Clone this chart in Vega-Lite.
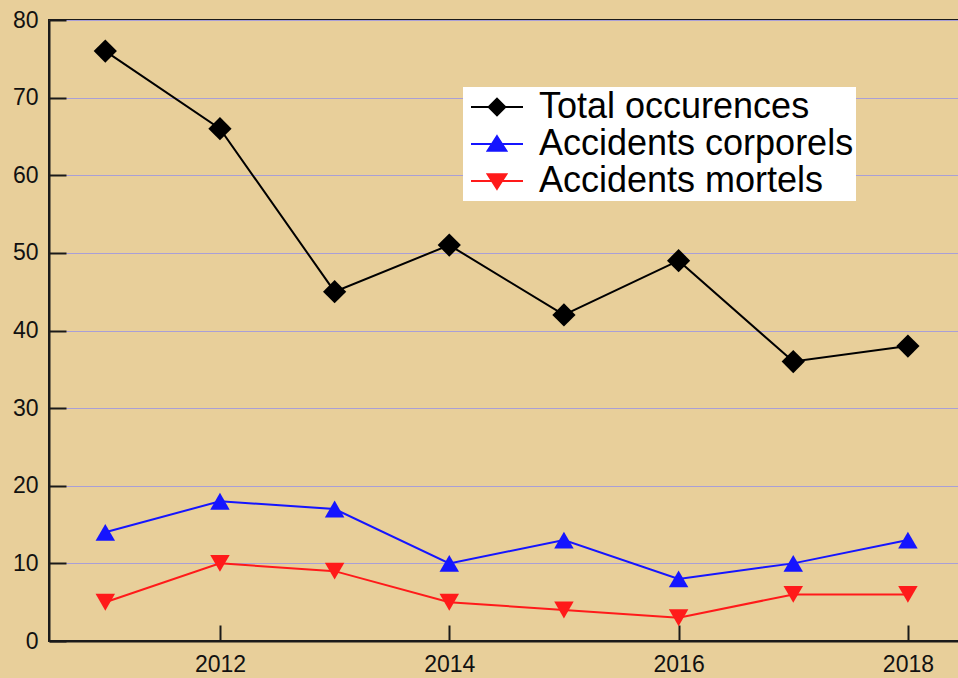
{
  "$schema": "https://vega.github.io/schema/vega-lite/v6.json",
  "width": 912,
  "height": 621,
  "padding": {"left": 49, "top": 20, "right": 0, "bottom": 37},
  "autosize": {"type": "none"},
  "background": "#e8cf9a",
  "config": {
    "font": "Liberation Sans",
    "view": {"stroke": "#1a1a1a", "strokeWidth": 2, "fill": "#e8cf9a"},
    "axis": {"labelFont": "Liberation Sans", "labelColor": "#111", "labelFontSize": 23, "domainColor": "#1a1a1a", "domainWidth": 2, "tickColor": "#1a1a1a", "tickWidth": 2}
  },
  "data": {"values": [
    {"year": 2011, "series": "Total occurences", "value": 76},
    {"year": 2012, "series": "Total occurences", "value": 66},
    {"year": 2013, "series": "Total occurences", "value": 45},
    {"year": 2014, "series": "Total occurences", "value": 51},
    {"year": 2015, "series": "Total occurences", "value": 42},
    {"year": 2016, "series": "Total occurences", "value": 49},
    {"year": 2017, "series": "Total occurences", "value": 36},
    {"year": 2018, "series": "Total occurences", "value": 38},
    {"year": 2011, "series": "Accidents corporels", "value": 14},
    {"year": 2012, "series": "Accidents corporels", "value": 18},
    {"year": 2013, "series": "Accidents corporels", "value": 17},
    {"year": 2014, "series": "Accidents corporels", "value": 10},
    {"year": 2015, "series": "Accidents corporels", "value": 13},
    {"year": 2016, "series": "Accidents corporels", "value": 8},
    {"year": 2017, "series": "Accidents corporels", "value": 10},
    {"year": 2018, "series": "Accidents corporels", "value": 13},
    {"year": 2011, "series": "Accidents mortels", "value": 5},
    {"year": 2012, "series": "Accidents mortels", "value": 10},
    {"year": 2013, "series": "Accidents mortels", "value": 9},
    {"year": 2014, "series": "Accidents mortels", "value": 5},
    {"year": 2015, "series": "Accidents mortels", "value": 4},
    {"year": 2016, "series": "Accidents mortels", "value": 3},
    {"year": 2017, "series": "Accidents mortels", "value": 6},
    {"year": 2018, "series": "Accidents mortels", "value": 6}
  ]},
  "encoding": {
    "x": {"field": "year", "type": "quantitative",
      "scale": {"domain": [2010.509, 2018.463], "nice": false, "zero": false},
      "axis": {"title": null, "values": [2012, 2014, 2016, 2018], "format": "d", "grid": false, "tickSize": -16, "labelPadding": 51, "labelBaseline": "bottom"}},
    "y": {"field": "value", "type": "quantitative",
      "scale": {"domain": [0, 80], "nice": false},
      "axis": {"title": null, "values": [0, 10, 20, 30, 40, 50, 60, 70, 80], "grid": true, "gridColor": "#a99fd6", "gridWidth": 1.2, "gridOpacity": 1, "tickSize": -17, "labelPadding": 28}},
    "color": {"field": "series", "type": "nominal",
      "scale": {"domain": ["Total occurences", "Accidents corporels", "Accidents mortels"], "range": ["#000000", "#1515ff", "#ff1a1a"]},
      "legend": {
        "title": null, "orient": "none", "legendX": 414, "legendY": 67,
        "fillColor": "#ffffff", "padding": 2,
        "labelFont": "Liberation Sans", "labelFontSize": 36, "labelColor": "#000", "labelLimit": 0,
        "labelOffset": 38, "symbolSize": 676, "rowPadding": 1,
        "encode": {"symbols": {"update": {
          "shape": {"signal": "datum.value === 'Total occurences' ? 'M-2,0H2M0,-0.64L0.64,0L0,0.64L-0.64,0Z' : datum.value === 'Accidents corporels' ? 'M-2,0H2M0,-0.6L0.72,0.52L-0.72,0.52Z' : 'M-2,0H2M0,0.6L0.72,-0.52L-0.72,-0.52Z'"},
          "fill": {"scale": "color", "field": "value"},
          "stroke": {"scale": "color", "field": "value"},
          "strokeWidth": {"value": 2},
          "size": {"value": 676},
          "x": {"value": 32},
          "opacity": {"value": 1},
          "fillOpacity": {"value": 1}
        }}}
      }}
  },
  "layer": [
    {"mark": {"type": "line", "strokeWidth": 2}},
    {"transform": [{"filter": "datum.series === 'Total occurences'"}],
     "mark": {"type": "point", "filled": true, "opacity": 1, "shape": "diamond", "size": 540}},
    {"transform": [{"filter": "datum.series === 'Accidents corporels'"}],
     "mark": {"type": "point", "filled": true, "opacity": 1, "shape": "triangle-up", "size": 380}},
    {"transform": [{"filter": "datum.series === 'Accidents mortels'"}],
     "mark": {"type": "point", "filled": true, "opacity": 1, "shape": "triangle-down", "size": 380}}
  ]
}
